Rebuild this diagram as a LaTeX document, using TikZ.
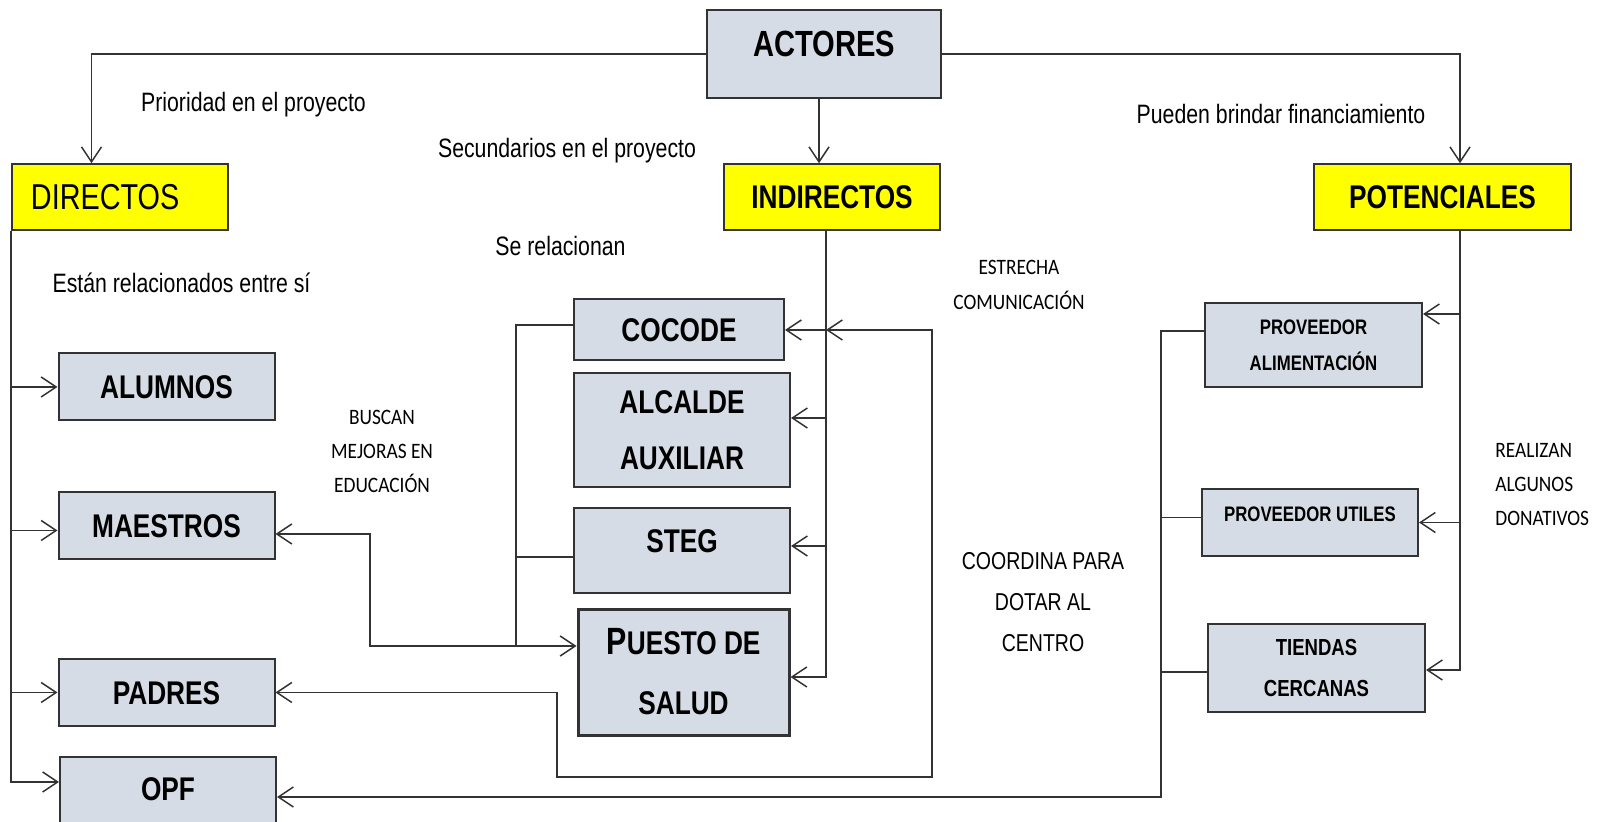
\documentclass[tikz,border=0pt]{standalone}
\usepackage{fontspec}
\setmainfont{Liberation Sans}[FakeStretch=0.8]
\newfontfamily\calfont{Carlito}[FakeStretch=0.88]
\usetikzlibrary{arrows.meta,calc}
\definecolor{boxfill}{HTML}{D6DCE5}
\definecolor{ylw}{HTML}{FFFF00}
\definecolor{ln}{HTML}{333333}
\begin{document}
\begin{tikzpicture}[x=0.5pt,y=-0.5pt,
  conn/.style={draw=ln, line width=0.75pt},
  arr/.style={conn, -{Straight Barb[length=7.5pt,width=10pt]}},
  darr/.style={conn, {Straight Barb[length=7.5pt,width=10pt]}-{Straight Barb[length=7.5pt,width=10pt]}},
  box/.style={draw=ln, line width=1pt, fill=boxfill, inner sep=0pt, align=center,
    font=\bfseries\fontsize{16.4pt}{28pt}\selectfont, text height=11.7pt, text depth=0pt},
  ybox/.style={box, fill=ylw},
  lbl/.style={inner sep=0pt, font=\fontsize{13.3pt}{16pt}\selectfont, text height=9.5pt, text depth=0pt},
  small/.style={inner sep=0pt, align=center, font=\calfont\fontsize{11pt}{17pt}\selectfont, text height=41pt, text depth=0pt},
]
\useasboundingbox (0,0) rectangle (1612,822);

% top level
\node[box, minimum width=117pt, minimum height=44pt,
  font=\bfseries\fontsize{18.2pt}{20pt}\selectfont, text height=13pt, text depth=10pt]
  (actores) at (824,54) {ACTORES};
\node[ybox, minimum width=108pt, minimum height=32.75pt, font=\fontsize{18pt}{20pt}\selectfont,
  text height=12.9pt, align=left, text width=89pt, inner xsep=9.5pt] (directos) at (120,197) {DIRECTOS};
\node[ybox, minimum width=108pt, minimum height=32.75pt] (indirectos) at (832,197) {INDIRECTOS};
\node[ybox, minimum width=128.5pt, minimum height=32.75pt] (potenciales) at (1442.5,197) {POTENCIALES};

% directos
\node[box, minimum width=108pt, minimum height=33.5pt] (alumnos) at (166.5,387) {ALUMNOS};
\node[box, minimum width=108pt, minimum height=33.5pt] (maestros) at (166.5,525.5) {MAESTROS};
\node[box, minimum width=108pt, minimum height=33.5pt] (padres) at (166.5,692.5) {PADRES};
\node[box, minimum width=108pt, minimum height=40pt, text depth=8.5pt] (opf) at (168,797) {OPF};

% indirectos
\node[box, minimum width=105pt, minimum height=30.5pt] (cocode) at (679,330) {COCODE};
\node[box, minimum width=108pt, minimum height=57pt, text height=39.7pt] (alcalde) at (682,430) {ALCALDE\\AUXILIAR};
\node[box, minimum width=108pt, minimum height=42.5pt, text depth=9.5pt] (steg) at (682,550.5) {STEG};
\node[box, line width=1.5pt, minimum width=105.5pt, minimum height=63pt,
  font=\bfseries\fontsize{16.4pt}{30pt}\selectfont, text height=41.7pt] (puesto) at (683.5,673)
  {{\fontsize{19pt}{30pt}\selectfont P}UESTO DE\\SALUD};

% potenciales
\node[box, minimum width=108.5pt, minimum height=42pt, font=\bfseries\fontsize{10.5pt}{18pt}\selectfont,
  text height=25.5pt] (pa) at (1313.5,345) {PROVEEDOR\\ALIMENTACIÓN};
\node[box, minimum width=108pt, minimum height=33.5pt, font=\bfseries\fontsize{10.5pt}{18pt}\selectfont,
  text height=7.5pt, text depth=8.5pt] (pu) at (1310,522.5) {PROVEEDOR UTILES};
\node[box, minimum width=108.5pt, minimum height=44pt, font=\bfseries\fontsize{11.6pt}{20.5pt}\selectfont,
  text height=28.8pt] (tc) at (1316.5,668) {TIENDAS\\CERCANAS};

% labels
\node[lbl] (l1) at (253.5,102) {Prioridad en el proyecto};
\node[lbl] (l2) at (567,148) {Secundarios en el proyecto};
\node[lbl] (l3) at (1281,114.5) {Pueden brindar financiamiento};
\node[lbl] (l4) at (560.5,246.5) {Se relacionan};
\node[lbl] (l5) at (181.5,283) {Están relacionados entre sí};
\node[small, font=\calfont\fontsize{11pt}{17.5pt}\selectfont, text height=24.5pt] (l6) at (1019,285.5) {ESTRECHA\\COMUNICACIÓN};
\node[small] (l7) at (382,452) {BUSCAN\\MEJORAS EN\\EDUCACIÓN};
\node[lbl, align=center, font=\fontsize{12.2pt}{20.5pt}\selectfont, text height=49.7pt] (l8) at (1043,602)
  {COORDINA PARA\\DOTAR AL\\CENTRO};
\node[small, align=left, anchor=west] (l9) at (1495,485) {REALIZAN\\ALGUNOS\\DONATIVOS};

% top connectors
\draw[arr] (actores.west) -| ([xshift=-14.25pt]directos.north);
\draw[arr] ([xshift=-2.5pt]actores.south) -- ([xshift=-2.5pt]actores.south |- indirectos.north);
\draw[arr] (actores.east) -| ([xshift=8.75pt]potenciales.north);

% directos branch
\coordinate (ow) at ([yshift=7.5pt]opf.west);
\coordinate (mw) at ([yshift=-2.5pt]maestros.west);
\draw[arr] (directos.south west) |- (ow);
\draw[arr] (directos.south west |- alumnos.west) -- (alumnos.west);
\draw[arr] (directos.south west |- mw) -- (mw);
\draw[arr] (directos.south west |- padres.west) -- (padres.west);

% indirectos branch
\coordinate (iv) at ([xshift=-3pt]indirectos.south);
\coordinate (pz) at ([yshift=-2pt]puesto.east);
\coordinate (az) at ([yshift=6pt]alcalde.east);
\coordinate (sz) at ([yshift=2.25pt]steg.east);
\draw[arr] (iv) |- (pz);
\draw[arr] (iv |- cocode.east) -- (cocode.east);
\draw[arr] (iv |- az) -- (az);
\draw[arr] (iv |- sz) -- (sz);

% loops
\draw[darr] (padres.east) -| (557,777) -| (932,330) -- (iv |- cocode.east);
\draw[darr] ([yshift=-4.25pt]maestros.east) -| (370,646) -- ([yshift=13.5pt]puesto.west);
\draw[conn] ([yshift=2.5pt]cocode.west) -| (516,646);
\draw[conn] ([yshift=-3.25pt]steg.west) -- ++(-58,0);

% potenciales branch
\coordinate (pv) at ([xshift=8.75pt]potenciales.south);
\coordinate (tz) at ([yshift=-1pt]tc.east);
\coordinate (paz) at ([yshift=15.5pt]pa.east);
\draw[arr] (pv) |- (tz);
\draw[arr] (pv |- paz) -- (paz);
\draw[arr] (pv |- pu.east) -- (pu.east);

% right bracket to OPF
\draw[arr] ([yshift=7pt]pa.west) -| (1161,797) -- (opf.east);
\draw[conn] ([yshift=2.5pt]pu.west) -- ++(-41,0);
\draw[conn] ([yshift=-2pt]tc.west) -- ++(-47,0);
\end{tikzpicture}
\end{document}
